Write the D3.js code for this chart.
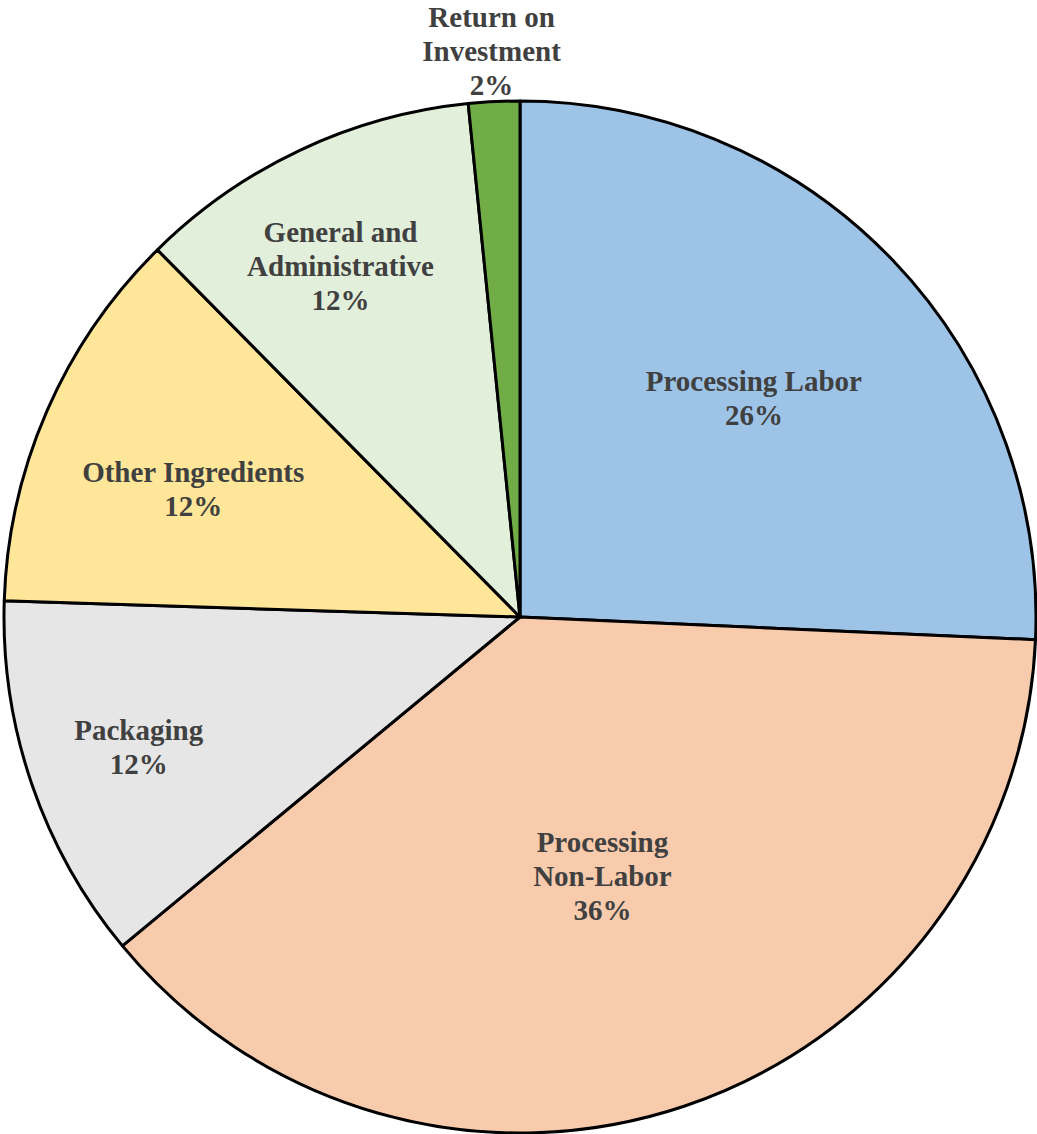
<!DOCTYPE html>
<html>
<head>
<meta charset="utf-8">
<script src="https://cdn.jsdelivr.net/npm/d3@7"></script>
<style>
  body { margin: 0; background: #fff; }
  .sliceLabel { font-family: "Liberation Serif", "Times New Roman", serif; font-weight: bold; fill: #404040; }
</style>
</head>
<body>
<div id="chart"></div>
<script>
var svgWidth = 1037;
var svgHeight = 1134;

// slice data, clockwise from 12 o'clock
var categories = ["Processing Labor", "Processing Non-Labor", "Packaging", "Other Ingredients", "General and Administrative", "Return on Investment"];
var shares = [25.7, 38.3, 11.5, 12.1, 10.8, 1.6];
var pctLabels = ["26%", "36%", "12%", "12%", "12%", "2%"];
var labelLines = [
  ["Processing Labor"],
  ["Processing", "Non-Labor"],
  ["Packaging"],
  ["Other Ingredients"],
  ["General and", "Administrative"],
  ["Return on", "Investment"]
];

var colors = ["#9DC3E6", "#F8CBAD", "#E6E6E6", "#FFE699", "#E2EFDA", "#70AD47"];

// label placement: distance from centre and angle nudge (degrees)
var labelDist = [320, 272, 403, 351, 394, 566];
var labelNudge = [0.7, 0.9, 0, -2.2, -1.9, 0];

var cx = 520, cy = 617, radius = 516;
var fontSize = 29, lineHeight = 34;

var svg = d3.select("#chart")
  .append("svg")
  .attr("width", svgWidth)
  .attr("height", svgHeight);

var chartGroup = svg.append("g")
  .attr("transform", `translate(${cx}, ${cy})`);

var pie = d3.pie()
  .sort(null)
  .value(d => d);

var arc = d3.arc()
  .innerRadius(0)
  .outerRadius(radius);

var arcs = pie(shares);

chartGroup.selectAll("path")
  .data(arcs)
  .enter()
  .append("path")
  .attr("d", arc)
  .attr("fill", (d, i) => colors[i])
  .attr("stroke", "#000")
  .attr("stroke-width", 3)
  .attr("stroke-linejoin", "round");

var labels = chartGroup.selectAll("text.sliceLabel")
  .data(arcs)
  .enter()
  .append("text")
  .attr("class", "sliceLabel")
  .attr("text-anchor", "middle")
  .style("font-size", fontSize + "px")
  .each(function(d, i) {
    var mid = (d.startAngle + d.endAngle) / 2 + labelNudge[i] * Math.PI / 180;
    var x = Math.sin(mid) * labelDist[i];
    var y = -Math.cos(mid) * labelDist[i];
    var lines = labelLines[i].concat([pctLabels[i]]);
    var firstBase = y - (lines.length - 1) * lineHeight / 2 + fontSize * 0.33;
    var t = d3.select(this);
    lines.forEach(function(line, k) {
      t.append("tspan")
        .attr("x", x)
        .attr("y", firstBase + k * lineHeight)
        .text(line);
    });
  });
</script>
</body>
</html>
